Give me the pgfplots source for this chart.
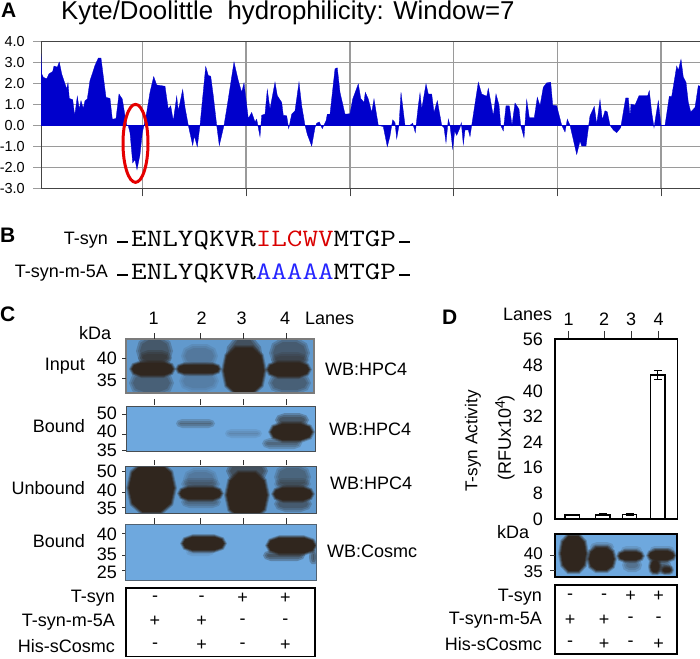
\documentclass[border=0pt]{standalone}
\usepackage{fontspec}
\setmainfont{Liberation Sans}
\usepackage{pgfplots}
\pgfplotsset{compat=1.18}

\definecolor{hyd}{HTML}{0000CC}
\definecolor{gridc}{HTML}{9A9A9A}
\definecolor{framec}{HTML}{444444}
\definecolor{blotbg}{HTML}{6EA8DE}
\definecolor{blotdk}{HTML}{6199CD}
\definecolor{bandc}{HTML}{30261E}
\definecolor{tickc}{HTML}{333333}

\newcommand\fs{\fontsize{18}{20}\selectfont}
% text placed in pixel coordinates of the page
\newcommand\rt[3]{\node[anchor=east,inner sep=0pt,font=\fs] at (#1,#2) {#3};}
\newcommand\lf[3]{\node[anchor=west,inner sep=0pt,font=\fs] at (#1,#2) {#3};}
\newcommand\ct[3]{\node[inner sep=0pt,font=\fs] at (#1,#2) {#3};}
\newcommand\pnl[3]{\node[anchor=west,inner sep=0pt,font=\fontsize{21}{24}\selectfont\bfseries] at (#1,#2) {#3};}
\newcommand\tk[4]{\addplot[tickc,line width=.8pt] coordinates {(#1,#2)(#3,#4)};}
\newcommand\rect[5]{\addplot[#1] coordinates {(#2,#4)(#3,#4)(#3,#5)(#2,#5)} -- cycle;}
\newcommand\maskr[4]{\rect{draw=none,fill=white}{#1}{#2}{#3}{#4}}
% rounded blot piece: opacity inset x1 x2 y1 y2
\newcommand\layer[6]{%
  \pgfmathsetmacro\lxa{#3+#2}\pgfmathsetmacro\lxb{#4-#2}%
  \pgfmathsetmacro\lya{#5+#2}\pgfmathsetmacro\lyb{#6-#2}%
  \pgfmathsetmacro\lh{\lyb-\lya}\pgfmathsetmacro\lw{\lxb-\lxa}%
  \pgfmathsetmacro\lc{min(.7*\lh,.3*\lw)}%
  \pgfmathsetmacro\lym{(\lya+\lyb)/2}%
  \pgfmathsetmacro\pa{\lxa+.25*\lc}\pgfmathsetmacro\pb{\lxa+\lc}%
  \pgfmathsetmacro\pc{\lxb-\lc}\pgfmathsetmacro\pd{\lxb-.25*\lc}%
  \pgfmathsetmacro\qa{\lya+.18*\lh}\pgfmathsetmacro\qb{\lyb-.18*\lh}%
  \edef\tmp{\noexpand\addplot[draw=none,fill=bandc,fill opacity=#1] coordinates {%
    (\lxa,\lym)(\pa,\qa)(\pb,\lya)(\pc,\lya)(\pd,\qa)(\lxb,\lym)(\pd,\qb)(\pc,\lyb)(\pb,\lyb)(\pa,\qb)} -- cycle;}\tmp}
% solid band with a soft rim
\newcommand\band[4]{%
  \layer{.25}{0}{#1}{#2}{#3}{#4}\layer{.4}{1}{#1}{#2}{#3}{#4}%
  \layer{.6}{2}{#1}{#2}{#3}{#4}\layer{1}{3}{#1}{#2}{#3}{#4}}
% soft smear: opacity x1 x2 y1 y2
\newcommand\smear[5]{%
  \pgfmathsetmacro\sop{#1*.4}%
  \edef\sopx{\sop}%
  \layer{\sopx}{0}{#2}{#3}{#4}{#5}\layer{\sopx}{2}{#2}{#3}{#4}{#5}\layer{\sopx}{4}{#2}{#3}{#4}{#5}}

\begin{document}
\begin{tikzpicture}
\begin{axis}[
  name=page, at={(0,0)}, anchor=south west,
  scale only axis, width=700pt, height=658pt,
  xmin=0, xmax=700, ymin=0, ymax=658, y dir=reverse,
  hide axis, clip=false, no markers
]
% titles and panel letters
\pnl{1}{10}{A}
\pnl{0}{235}{B}
\pnl{0}{314}{C}
\pnl{442}{317}{D}
\node[anchor=base west,inner sep=0pt,font=\fontsize{25.8}{28}\selectfont] at (61,19.5) {Kyte/Doolittle\ \ hydrophilicity: Window=7};

% panel B
\rt{108}{240}{T-syn}
\rt{108}{273}{T-syn-m-5A}
\addplot[black,line width=2pt] coordinates {(117,241.5)(128,241.5)};
\addplot[black,line width=2pt] coordinates {(399,241.5)(410,241.5)};
\addplot[black,line width=2pt] coordinates {(117,274.5)(128,274.5)};
\addplot[black,line width=2pt] coordinates {(399,274.5)(410,274.5)};
\node[anchor=west,inner sep=0pt,font=\fontsize{25}{28}\selectfont\ttfamily] at (131,240) {\scalebox{1.21}[1]{ENLYQKVR\textcolor{red!85!black}{ILCWV}MTGP}};
\node[anchor=west,inner sep=0pt,font=\fontsize{25}{28}\selectfont\ttfamily] at (131,273) {\scalebox{1.21}[1]{ENLYQKVR\textcolor{blue!85!white}{AAAAA}MTGP}};

% blot backgrounds
\rect{draw=none,fill=blotdk}{126}{314}{339}{393}
\rect{draw=none,fill=blotbg}{126}{315}{406}{451}
\rect{draw=none,fill=blotdk}{125}{316}{466}{513.5}
\rect{draw=none,fill=blotbg}{125}{316}{524}{580}
\rect{draw=none,fill=blotbg}{555}{677}{534}{577}

% Input
\smear{.6}{136}{173}{336}{366}
\smear{.6}{138}{172}{350}{366}
\smear{.5}{129}{174}{370}{396}
\band{129}{176}{360}{378}
\smear{.25}{181}{218}{344}{368}
\smear{.2}{179}{219}{370}{392}
\band{175}{222}{362}{376}
\smear{.7}{224}{264}{336}{396}
\band{221}{267}{345}{396}
\smear{.55}{269}{310}{338}{368}
\smear{.4}{271}{309}{352}{368}
\smear{.5}{268}{311}{372}{394}
\band{265}{312}{360}{379}
% Bound HPC4
\smear{.5}{176}{215}{419}{428}
\smear{.22}{225}{262}{429}{438}
\smear{.7}{275}{309}{413}{427}
\smear{.5}{262}{302}{438}{449}
\band{268}{315}{421}{443}
% Unbound
\band{126}{177}{461}{515}
\smear{.25}{183}{218}{468}{490}
\smear{.35}{181}{220}{478}{490}
\smear{.4}{181}{221}{496}{508}
\band{177}{224}{485}{502}
\smear{.7}{226}{268}{460}{482}
\band{224}{270}{470}{520}
\smear{.45}{274}{311}{464}{490}
\smear{.35}{274}{311}{478}{490}
\smear{.55}{274}{312}{496}{512}
\band{271}{315}{485}{503}
% Bound Cosmc
\smear{.2}{186}{214}{548}{556}
\band{180}{227}{534}{553}
\smear{.7}{263}{305}{550}{561}
\smear{.7}{309}{318}{550}{564}
\band{265}{318}{535}{556}
% blot D
\band{558}{589}{533}{574}
\smear{.4}{590}{614}{542}{552}
\band{586}{617}{545}{573}
\smear{.3}{621}{642}{546}{554}
\smear{.4}{622}{642}{558}{572}
\band{616}{645}{549}{563}
\smear{.35}{650}{674}{546}{553}
\band{646}{677}{548}{563}
\band{648}{662}{558}{575}
\band{660}{674}{565}{575}
\smear{.6}{650}{672}{560}{574}

% white round the blots
\maskr{100}{330}{328}{339}\maskr{100}{330}{393}{406}\maskr{100}{330}{451}{466}
\maskr{100}{330}{513.5}{524}\maskr{100}{330}{580}{590}
\maskr{110}{125}{335}{585}\maskr{316}{330}{335}{585}
\maskr{545}{555}{525}{585}\maskr{677}{690}{525}{585}\maskr{545}{690}{525}{534}\maskr{545}{690}{577}{585}

% frames
\rect{gridc!80!black,line width=1.3pt}{126}{314}{339}{393}
\rect{framec!90!blotbg,line width=1pt}{126}{315}{406}{451}
\rect{framec!90!blotbg,line width=1pt}{125}{316}{466}{513.5}
\rect{framec!70!blotbg,line width=1pt}{125}{316}{524}{580}
\rect{black,line width=1.3pt}{555}{677}{534}{577}
\rect{black,line width=1.5pt}{126}{315}{588}{656.5}
\rect{black,line width=1.2pt}{555}{677}{585}{654}

% lane ticks above blots
\tk{154.7}{333}{154.7}{339}\tk{200.7}{333}{200.7}{339}\tk{243.3}{333}{243.3}{339}\tk{286.7}{333}{286.7}{339}
\tk{154.7}{399}{154.7}{405}\tk{200.7}{399}{200.7}{405}\tk{243.3}{399}{243.3}{405}\tk{286.7}{399}{286.7}{405}
\tk{154.7}{460}{154.7}{465}\tk{200.7}{460}{200.7}{465}\tk{243.3}{460}{243.3}{465}\tk{286.7}{460}{286.7}{465}
\tk{154.7}{518}{154.7}{524}\tk{200.7}{518}{200.7}{524}\tk{243.3}{518}{243.3}{524}\tk{286.7}{518}{286.7}{524}

% marker ticks
\tk{122}{358}{126}{358}\tk{122}{378}{126}{378}
\tk{122}{414}{126}{414}\tk{122}{434}{126}{434}\tk{122}{450}{126}{450}
\tk{122}{471}{125}{471}\tk{122}{492}{125}{492}\tk{122}{507}{125}{507}
\tk{122}{533}{125}{533}\tk{122}{555}{125}{555}\tk{122}{570}{125}{570}
\tk{550}{555}{555}{555}\tk{550}{570}{555}{570}

% panel C labels
\ct{153.7}{318}{1}\ct{201.7}{318}{2}\ct{241.7}{318}{3}\ct{285}{318}{4}
\lf{305}{318}{Lanes}
\lf{79}{333}{kDa}
\rt{117}{358}{40}\rt{117}{380}{35}
\rt{117}{413}{50}\rt{117}{431}{40}\rt{117}{450}{35}
\rt{117}{471}{50}\rt{117}{490}{40}\rt{117}{508}{35}
\rt{117}{534}{40}\rt{117}{554}{35}\rt{117}{572}{25}
\rt{85}{366}{Input}\rt{85}{426}{Bound}\rt{85}{488}{Unbound}\rt{85}{541}{Bound}
\lf{325}{369}{WB:HPC4}\lf{329}{429}{WB:HPC4}\lf{330}{483}{WB:HPC4}\lf{327}{551}{WB:Cosmc}

% condition rows, panel C
\rt{115}{598}{T-syn}\rt{115}{622}{T-syn-m-5A}\rt{115}{646}{His-sCosmc}
\ct{155}{599}{-}\ct{201.7}{599}{-}\ct{242.7}{598}{+}\ct{285.3}{598}{+}
\ct{155}{621}{+}\ct{201.7}{621}{+}\ct{242.7}{622}{-}\ct{285.3}{622}{-}
\ct{155}{646}{-}\ct{201.7}{645}{+}\ct{242.7}{646}{-}\ct{285.3}{645}{+}

% panel D labels
\lf{503}{314}{Lanes}
\lf{497}{532}{kDa}
\node[anchor=east,inner sep=0pt,font=\fontsize{17}{18}\selectfont] at (543,554) {40};
\node[anchor=east,inner sep=0pt,font=\fontsize{17}{18}\selectfont] at (543,572) {35};
\node[rotate=90,inner sep=0pt,font=\fontsize{17.2}{20}\selectfont] at (473,441) {T-syn Activity};
\node[rotate=90,inner sep=0pt,font=\fs] at (505,438) {(RFUx10\raisebox{6pt}{\fontsize{14}{14}\selectfont 4})};
\rt{542}{597}{T-syn}\rt{542}{620}{T-syn-m-5A}\rt{542}{644}{His-sCosmc}
\ct{570}{597}{-}\ct{604}{597}{-}\ct{630.7}{596}{+}\ct{658.7}{596}{+}
\ct{570}{620}{+}\ct{604}{620}{+}\ct{630.7}{620}{-}\ct{658.7}{620}{-}
\ct{570}{644}{-}\ct{604}{644}{+}\ct{630.7}{644}{-}\ct{658.7}{644}{+}
\end{axis}

% panel A: hydrophilicity profile
\begin{axis}[
  at={(41pt,469.7pt)}, anchor=south west,
  scale only axis, width=659pt, height=147pt,
  xmin=41, xmax=700, ymin=-3, ymax=4,
  axis lines=left, axis line style={-,framec,line width=1pt},
  xtick={142.3,246,350,453.7,557.7,661}, xticklabels={},
  ytick={-3,-2,-1,0,1,2,3,4},
  yticklabels={-3.0,-2.0,-1.0,0.0,1.0,2.0,3.0,4.0},
  tick align=outside, major tick length=8pt,
  tick style={gridc,line width=1pt},
  x tick style={framec,line width=1pt},
  grid=major, grid style={gridc,line width=1.1pt},
  ticklabel style={font=\fontsize{14.5}{16}\selectfont, inner sep=0pt},
  yticklabel style={xshift=-8pt},
  /pgf/number format/assume math mode=true,
  clip=true
]
\addplot[fill=hyd,draw=hyd,line width=.3pt] coordinates {
(41,0)(41,3.41)(41.7,2.45)(43.3,2.29)(46.7,2.21)(49,2.45)(52.7,2.56)(54,2.82)(57.3,2.77)(59.3,3.01)
(61.7,2.45)(65,1.97)(66.7,1.73)(68,2.02)(69.3,1.28)(72.7,1.22)(74.7,0.45)(77.3,1.38)(79.3,0.77)(81,1.17)
(83.3,0.8)(85,1.17)(87.3,1.25)(90,2.13)(95,2.85)(98.3,3.2)(101,3.2)(106,1.33)(110,1.28)(112.3,0.29)
(116,0.32)(119,1.49)(122.3,1.25)(125,0.45)(126.7,0)(128.3,-0.03)(130,-0.35)(132.7,-1.79)(135,-1.63)(137,-2.11)
(140,-1.39)(142.3,-0.35)(144,0)(146.7,0.61)(150,1.57)(153.7,2.32)(156.7,1.92)(165,1.86)(168.3,0.77)(170.7,0.93)
(173.3,0.21)(176.7,1.38)(178.3,0.69)(182.7,1.7)(185,0.85)(188.3,0)(192.7,-0.96)(194.3,-0.51)(197.3,-1.02)(200,0)
(205.7,2.8)(208.3,2.37)(210.7,2.34)(213.3,1.41)(216.7,0)(219.3,-0.96)(224,0)(226.7,0.77)(234,3.01)(238.3,2.13)
(241.7,1.57)(244,2.02)(248.3,0.32)(251.7,0.61)(255,0.16)(256.7,0.29)(260,-0.54)(261.7,0.48)(265,0.53)(267.3,1.7)
(270,0.77)(275,2.05)(277.3,1.41)(281.7,1.09)(283.3,0.48)(286.7,0.45)(288.7,-0.16)(291.7,0.53)(295,0.69)(299,2.05)
(301.7,0.93)(305,0)(307.3,-0.43)(311.7,-0.99)(315,-0.11)(316.7,0.1)(319.3,0.16)(322.3,-0.16)(326,0.21)(327.3,0.53)
(330,0.53)(335,2.69)(337.3,2.74)(340,1.57)(345,0.53)(350,0.55)(352.7,1.25)(358.3,1.97)(360.7,1.28)(364,1.09)
(365.3,1.57)(368.3,1.25)(371.7,0.61)(374,1.25)(378.3,0)(383.3,-0.06)(387.3,-1.02)(390,-0.51)(391.7,0)(392.7,0.26)
(395,0.13)(396.7,-0.64)(399,0)(401,1.57)(405,0)(410,0)(412.7,0.1)(415.3,-0.35)(418.3,0.93)(420,1.54)
(421.7,0.77)(426,1.97)(428.3,1.49)(431.7,1.49)(434,0.61)(437.3,1.17)(441.7,0)(444,-0.11)(446,-0.83)(448.3,0.29)
(450,0)(452.7,-1.12)(454.7,-0.27)(456.7,-0.48)(460,-0.11)(461.3,0.13)(463.3,-0.91)(465,-0.22)(468.3,-0.22)(470,-0.54)
(471.7,0)(478.3,2.05)(481.7,1.49)(486.7,1.38)(488.3,1.76)(493.3,0.45)(496,1.49)(499,0.96)(500.7,0)(503.3,-0.27)
(506,0.93)(509.3,0.93)(512,0)(515,1.06)(519,0.77)(520.7,0)(524,-0.59)(526.7,1.22)(529.3,0.37)(534.3,0.37)
(537.3,1.33)(540,0.93)(543.3,1.81)(546.7,2.02)(550.7,2.05)(552.7,0.96)(556.7,0.93)(561.7,0)(565,-0.32)(567.3,0.29)
(570,0)(576.7,-1.39)(580,-0.75)(581.7,-0.99)(586,-0.99)(588.7,0)(590,0.45)(594.3,0.9)(596.7,0.05)(600,1.22)
(602.3,0.26)(605,0.69)(607.3,0.64)(610,0)(613.3,-0.22)(616.7,-0.35)(620.7,-0.11)(625.7,1.3)(628.3,1.3)(630,0.45)
(631,1.01)(635,0.96)(639,1.41)(647.7,1.41)(649.3,1.65)(651.7,0.61)(654,-0.11)(658.3,1.17)(661,0)(665,0)
(669.3,1.38)(671.7,1.38)(676.7,2.82)(678.3,2.61)(681,3.14)(683.3,2.29)(686,2.05)(688.3,1.09)(690.7,0.64)(695,0.85)
(698.3,1.89)(700,1.86)(700,0)
} -- cycle;
\addplot[hyd,line width=1pt] coordinates {(41,0)(700,0)};
\addplot[framec,line width=1pt] coordinates {(41,4)(700,4)};
\draw[red!90!black,line width=3pt] (axis cs:135.5,-0.86) ellipse [x radius=12.5pt, y radius=39pt];
\end{axis}

% panel D: activity bars
\begin{axis}[
  at={(555pt,139pt)}, anchor=south west,
  scale only axis, width=122.3pt, height=180pt,
  xmin=555, xmax=677.3, ymin=0, ymax=56.25,
  axis line style={black,line width=1.3pt},
  xtick={568.7,604,631,658.7}, xticklabels={1,2,3,4},
  xtick pos=top, xticklabel pos=top,
  x tick style={tickc,line width=.8pt}, tick align=outside,
  major tick length=8pt,
  ytick={0,8,16,24,32,40,48,56}, ytick pos=left,
  y tick style={draw=none},
  ticklabel style={font=\fs, inner sep=0pt},
  yticklabel style={xshift=-4pt},
  xticklabel style={yshift=5pt},
  /pgf/number format/assume math mode=true,
  ybar, bar width=14.5, bar shift=0pt
]
\addplot[fill=white,draw=black,line width=1.4pt,
  error bars/.cd, y dir=both, y explicit,
  error bar style={black,line width=1pt},
  error mark options={rotate=90,black,mark size=4pt,line width=1pt}]
  coordinates {
  (572.3,1.25) +- (0,0.3)
  (602.8,1.3) +- (0,0.3)
  (629.5,1.4) +- (0,0.3)
  (657.8,45) +- (0,1.5)
};
\end{axis}
\pgfresetboundingbox
\path[use as bounding box] (0,0) rectangle (700pt,658pt);
\end{tikzpicture}
\end{document}
